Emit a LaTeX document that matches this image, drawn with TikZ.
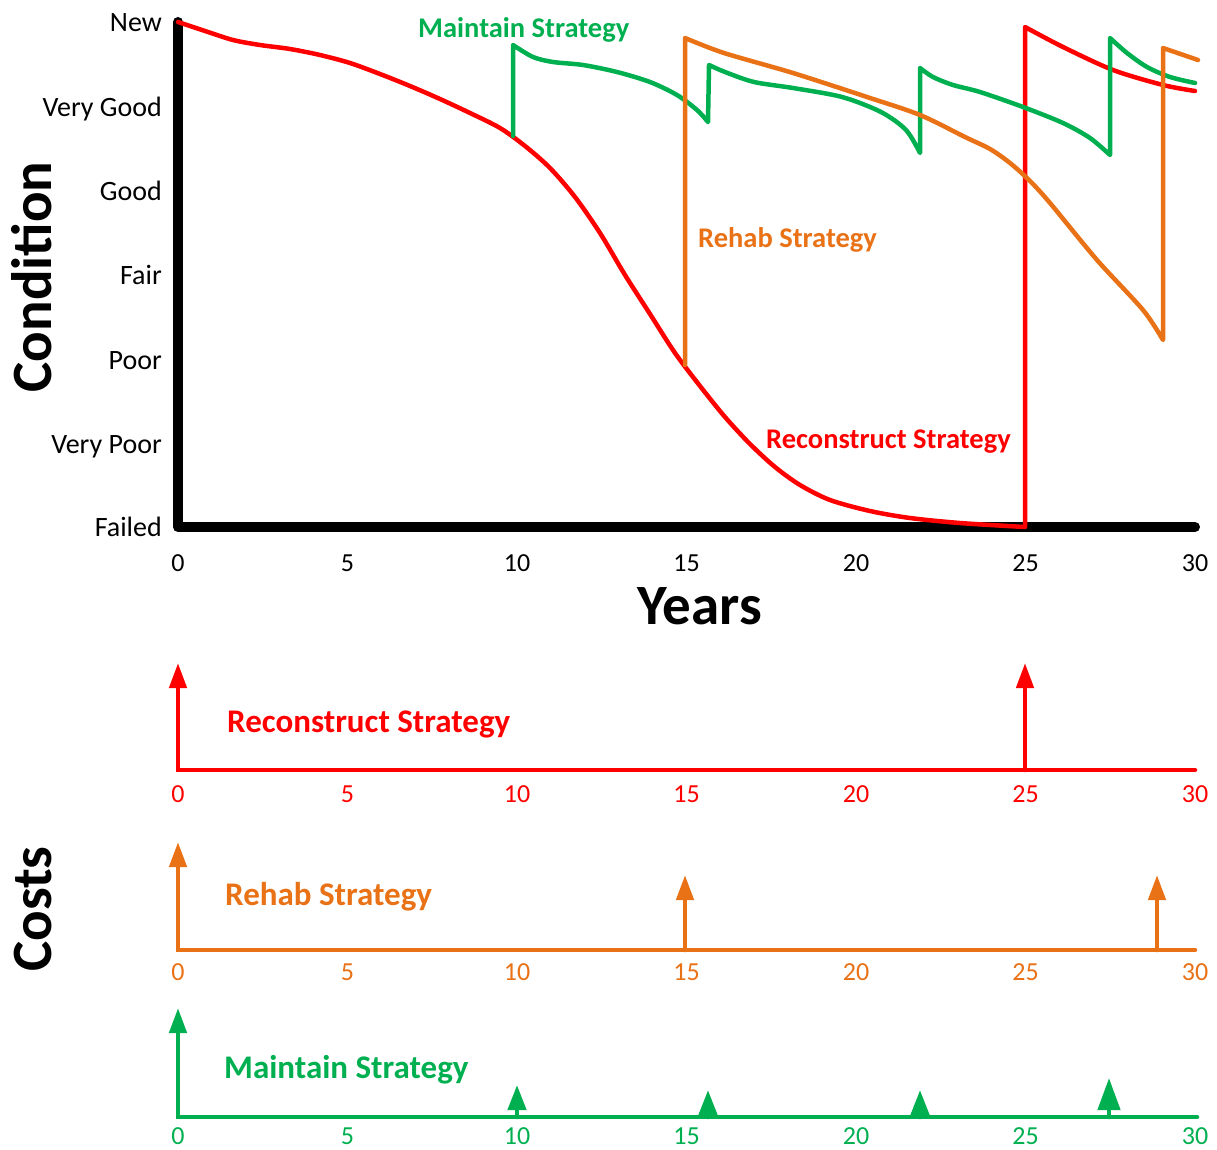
\documentclass[tikz,border=0pt]{standalone}
\usepackage{fontspec}
\setmainfont{Carlito}
\usetikzlibrary{arrows.meta}
\definecolor{rcol}{HTML}{FF0000}
\definecolor{ocol}{HTML}{E97116}
\definecolor{gcol}{HTML}{00B050}
\begin{document}
\begin{tikzpicture}[x=1pt,y=-1pt,
  axisline/.style={line width=10pt, line cap=round, line join=round},
  curve/.style={line width=4.5pt, line cap=round, line join=round},
  sm/.style={smooth, tension=0.5},
  lvl/.style={anchor=base east, inner sep=0pt, font=\fontsize{28}{32}\selectfont},
  ticklab/.style={anchor=base, inner sep=0pt, font=\fontsize{26}{30}\selectfont},
  big/.style={anchor=base, inner sep=0pt, font=\fontsize{57}{62}\selectfont\bfseries},
  tag/.style={anchor=base west, inner sep=0pt, font=\fontsize{28.5}{32}\selectfont\bfseries},
  costtag/.style={anchor=base west, inner sep=0pt, font=\fontsize{33}{38}\selectfont\bfseries},
  costaxis/.style={line width=4.5pt, line cap=round, line join=miter},
  bigtip/.style={{Triangle[width=17pt,length=25pt]}-},
  uptip/.style={-{Triangle[width=17pt,length=25pt]}},
  smalltip/.style={-{Triangle[width=18pt,length=25pt]}},
  widetip/.style={-{Triangle[width=22pt,length=32pt]}},
]
\useasboundingbox (0,0) rectangle (1217,1149);

% ---------- condition chart ----------
\coordinate (top) at (178,22);
\coordinate (origin) at (178,527);
\coordinate (xend) at (1195,527);
\draw[axisline] (top) -- (origin) -- (xend);

% condition levels
\foreach \name/\lab/\yy in {new/New/22, vg/Very Good/107, gd/Good/191, fr/Fair/275,
    pr/Poor/360, vp/Very Poor/444, fl/Failed/527}
  \node[lvl] (lvl-\name) at (162,\yy+9) {\lab};

% year ticks
\foreach \v in {0,5,...,30}
  \node[ticklab] (yr\v) at ({178+\v*33.9},571) {\v};

\node[big] (years) at (700,624) {Years};
\node[big, rotate=90] (condition) at (51,277) {Condition};
\node[big, rotate=90] (costs) at (51,909) {Costs};

% reconstruct strategy
\draw[curve, rcol] plot[sm] coordinates {(178,22) (205,31) (233,40) (260,45) (290,49)
   (320,55) (350,63) (380,74) (410,86) (440,99) (470,113) (500,128) (525,146) (550,168)
   (575,197) (600,233) (625,275) (650,314) (675,353) (700,386) (725,417) (750,444)
   (775,467) (800,485) (830,500) (870,511) (910,518) (960,523) (1025,527)}
   -- (1025,27)
   -- plot[sm] coordinates {(1025,27) (1063,47) (1113,70) (1163,85) (1195,91)};

% maintain strategy
\draw[curve, gcol] (513,136) -- (513,45)
   -- plot[sm] coordinates {(513,45) (533,57) (553,62) (583,65) (617,72) (650,82)
      (677,95) (697,110) (708,122)}
   -- (709,65)
   -- plot[sm] coordinates {(709,65) (725,72) (754,82) (793,88) (842,97) (881,112)
      (906,130) (920,153)}
   -- (920,68)
   -- plot[sm] coordinates {(920,68) (933,77) (953,85) (980,92) (1023,107) (1063,123)
      (1090,138) (1110,155)}
   -- (1110,38)
   -- plot[sm] coordinates {(1110,38) (1127,53) (1147,67) (1170,77) (1195,83)};

% rehab strategy
\draw[curve, ocol] (685,365) -- (685,38)
   -- plot[sm] coordinates {(685,38) (724,53) (793,73) (867,97) (920,115) (965,137)
      (990,149) (1010,163) (1030,181) (1050,203) (1097,260) (1143,310) (1163,340)}
   -- (1163,48) -- (1198,60);

\node[tag, gcol] (lab-maintain) at (418,37) {Maintain Strategy};
\node[tag, ocol] (lab-rehab) at (698,247) {Rehab Strategy};
\node[tag, rcol] (lab-reconstruct) at (766,448) {Reconstruct Strategy};

% ---------- cost timelines ----------
% reconstruct
\coordinate (r0) at (178,770);
\coordinate (r0t) at (178,663);
\coordinate (rend) at (1195,770);
\coordinate (r25) at (1025,770);
\coordinate (r25t) at (1025,663);
\draw[costaxis, rcol, bigtip] (r0t) -- (r0) -- (rend);
\draw[costaxis, rcol, uptip] (r25) -- (r25t);
\foreach \v in {0,5,...,30}
  \node[ticklab, rcol] (rc\v) at ({178+\v*33.9},802) {\v};
\node[costtag, rcol] (cost-reconstruct) at (227,732) {Reconstruct Strategy};

% rehab
\coordinate (o0) at (178,950);
\coordinate (o0t) at (178,842);
\coordinate (oend) at (1195,950);
\coordinate (o15) at (685,950);
\coordinate (o15t) at (685,875);
\coordinate (o29) at (1157,950);
\coordinate (o29t) at (1157,875);
\draw[costaxis, ocol, bigtip] (o0t) -- (o0) -- (oend);
\draw[costaxis, ocol, uptip] (o15) -- (o15t);
\draw[costaxis, ocol, uptip] (o29) -- (o29t);
\foreach \v in {0,5,...,30}
  \node[ticklab, ocol] (oc\v) at ({178+\v*33.9},980) {\v};
\node[costtag, ocol] (cost-rehab) at (225,905) {Rehab Strategy};

% maintain
\coordinate (g0) at (178,1117);
\coordinate (g0t) at (178,1008);
\coordinate (gend) at (1197,1117);
\coordinate (g1) at (517,1117);  \coordinate (g1t) at (517,1085);
\coordinate (g2) at (708,1117);  \coordinate (g2t) at (708,1090);
\coordinate (g3) at (920,1117);  \coordinate (g3t) at (920,1090);
\coordinate (g4) at (1109,1117); \coordinate (g4t) at (1109,1078);
\draw[costaxis, gcol, bigtip] (g0t) -- (g0) -- (gend);
\draw[costaxis, gcol, smalltip] (g1) -- (g1t);
\draw[costaxis, gcol, smalltip] (g2) -- (g2t);
\draw[costaxis, gcol, smalltip] (g3) -- (g3t);
\draw[costaxis, gcol, widetip] (g4) -- (g4t);
\foreach \v in {0,5,...,30}
  \node[ticklab, gcol] (gc\v) at ({178+\v*33.9},1144) {\v};
\node[costtag, gcol] (cost-maintain) at (224,1078) {Maintain Strategy};
\end{tikzpicture}
\end{document}
